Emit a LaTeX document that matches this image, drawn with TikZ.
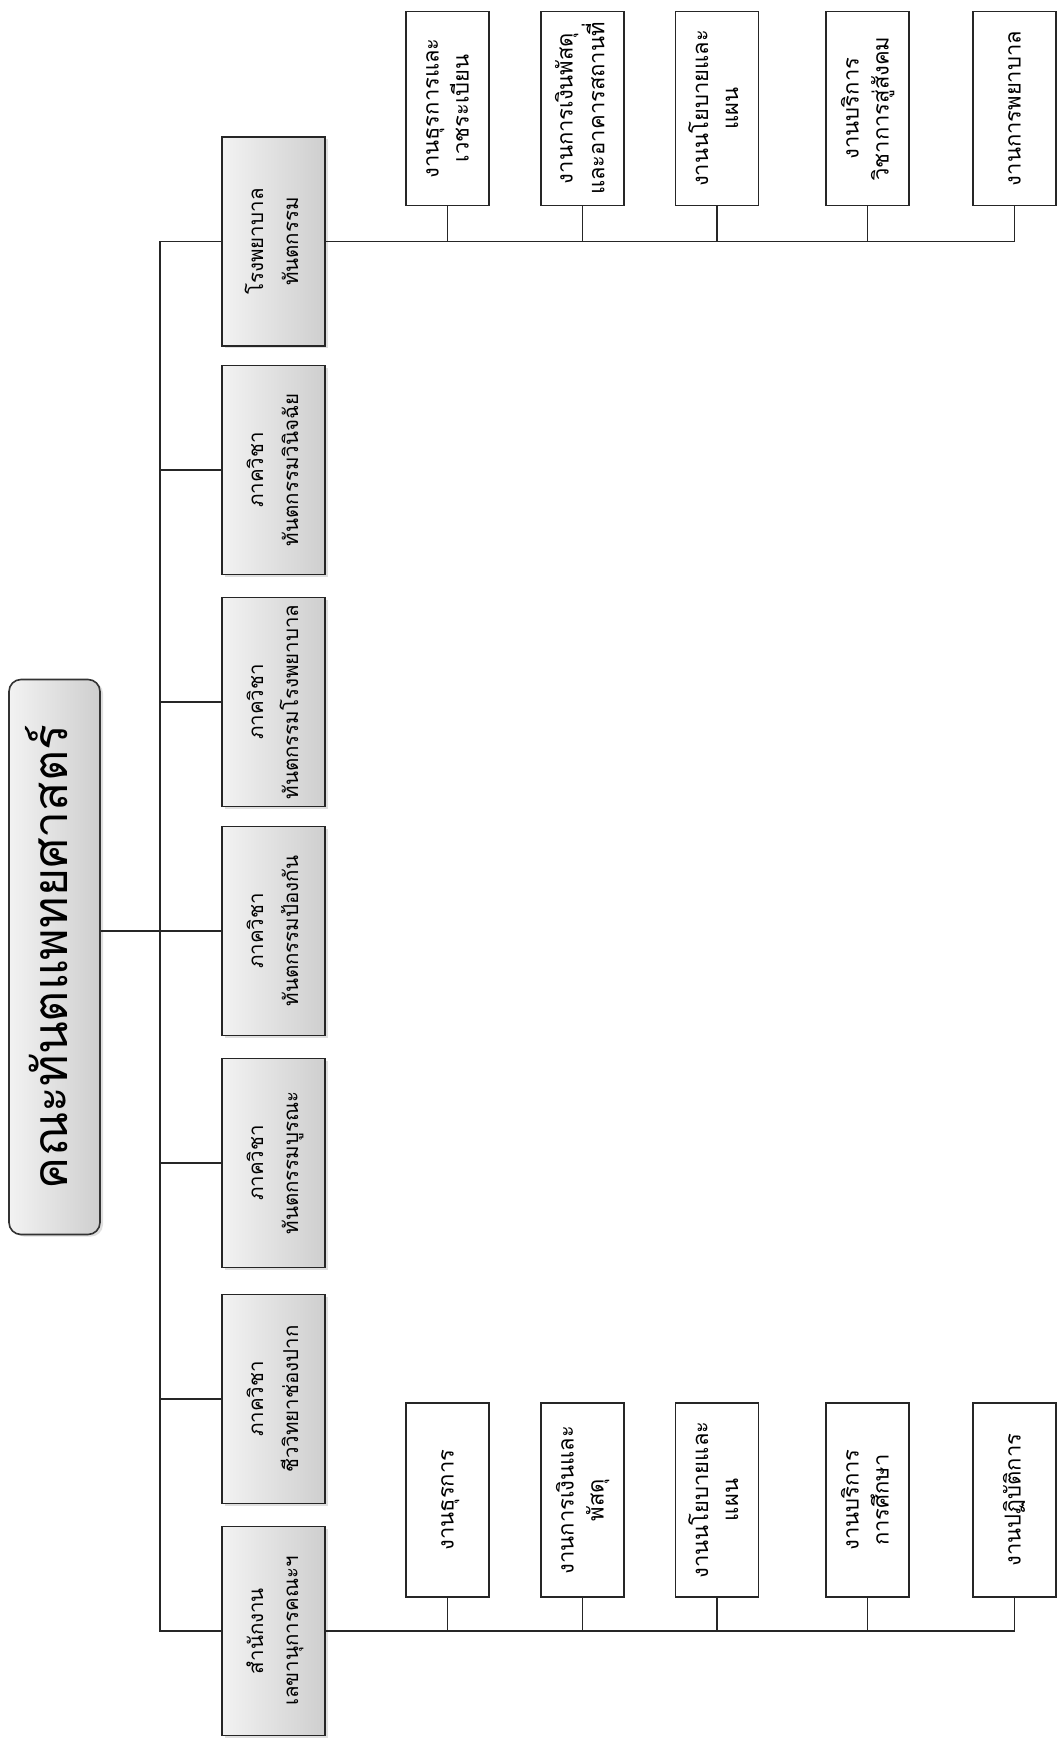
\documentclass[tikz,border=0pt]{standalone}
\usepackage{fontspec}
\newfontfamily\thaifont[Script=Thai]{Loma}
\usepackage{graphicx}
\usetikzlibrary{shadows}
\newcommand{\rottext}[1]{\rotatebox{90}{\begin{tabular}{@{}c@{}}#1\end{tabular}}}
\begin{document}
\begin{tikzpicture}[x=1pt,y=-1pt,
  conn/.style={draw=black!85, line width=1.6pt},
  titlebox/.style={draw=black!80, line width=1.6pt, rounded corners=12pt,
    left color=gray!10, right color=gray!38,
    drop shadow={shadow xshift=3pt, shadow yshift=-2pt, opacity=0.25},
    minimum width=91pt, minimum height=555pt, inner sep=0pt,
    font=\thaifont\fontsize{48}{56}\selectfont},
  deptbox/.style={draw=black!85, line width=1.6pt,
    left color=gray!10, right color=gray!38,
    drop shadow={shadow xshift=3pt, shadow yshift=-2pt, opacity=0.25},
    minimum width=103pt, minimum height=209pt, inner sep=0pt,
    font=\thaifont\fontsize{20.5}{35}\selectfont},
  unitbox/.style={draw=black!85, line width=1.6pt, fill=white,
    minimum width=83pt, minimum height=194pt, inner sep=0pt,
    font=\thaifont\fontsize{22}{30}\selectfont}
]
\useasboundingbox (0,0) rectangle (1057,1742);
\fill[white] (0,0) rectangle (1057,1742);

% title
\node[titlebox] (title) at (54.5,957) {\rottext{คณะทันตแพทยศาสตร์}};

% level 2
\node[deptbox] (d1) at (273.5,241.5) {\rottext{โรงพยาบาล\\ทันตกรรม}};
\node[deptbox] (d2) at (273.5,470) {\rottext{ภาควิชา\\ทันตกรรมวินิจฉัย}};
\node[deptbox] (d3) at (273.5,702) {\rottext{ภาควิชา\\ทันตกรรมโรงพยาบาล}};
\node[deptbox] (d4) at (273.5,931) {\rottext{ภาควิชา\\ทันตกรรมป้องกัน}};
\node[deptbox] (d5) at (273.5,1163) {\rottext{ภาควิชา\\ทันตกรรมบูรณะ}};
\node[deptbox] (d6) at (273.5,1399) {\rottext{ภาควิชา\\ชีววิทยาช่องปาก}};
\node[deptbox] (d7) at (273.5,1631) {\rottext{สำนักงาน\\เลขานุการคณะฯ}};

% level 3 top (hospital)
\node[unitbox] (t1) at (447.5,108.5) {\rottext{งานธุรการและ\\เวชระเบียน}};
\node[unitbox] (t2) at (582.5,108.5) {\rottext{งานการเงินพัสดุ\\และอาคารสถานที่}};
\node[unitbox] (t3) at (717,108.5) {\rottext{งานนโยบายและ\\แผน}};
\node[unitbox] (t4) at (867.5,108.5) {\rottext{งานบริการ\\วิชาการสู่สังคม}};
\node[unitbox] (t5) at (1014.5,108.5) {\rottext{งานการพยาบาล}};

% level 3 bottom (office)
\node[unitbox] (b1) at (447.5,1500) {\rottext{งานธุรการ}};
\node[unitbox] (b2) at (582.5,1500) {\rottext{งานการเงินและ\\พัสดุ}};
\node[unitbox] (b3) at (717,1500) {\rottext{งานนโยบายและ\\แผน}};
\node[unitbox] (b4) at (867.5,1500) {\rottext{งานบริการ\\การศึกษา}};
\node[unitbox] (b5) at (1014.5,1500) {\rottext{งานปฏิบัติการ}};

% connectors
\coordinate (bus) at (160,0);
\draw[conn] (d4.west) -- (title.east |- d4.west);
\draw[conn] (d1.west) -- (d1.west -| bus) -- (d7.west -| bus) -- (d7.west);
\foreach \d in {d2,d3,d4,d5,d6} \draw[conn] (\d.west) -- (\d.west -| bus);

\draw[conn] (d1.east) -- (t5.south |- d1.east) -- (t5.south);
\foreach \t in {t1,t2,t3,t4} \draw[conn] (\t.south) -- (\t.south |- d1.east);

\draw[conn] (d7.east) -- (b5.south |- d7.east) -- (b5.south);
\foreach \b in {b1,b2,b3,b4} \draw[conn] (\b.south) -- (\b.south |- d7.east);
\end{tikzpicture}
\end{document}
